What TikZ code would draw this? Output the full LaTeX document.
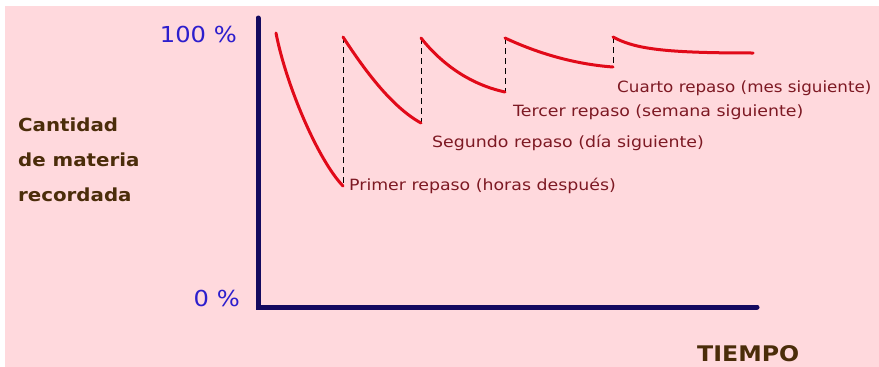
\documentclass[tikz,border=0pt]{standalone}
\usepackage{fontspec}
\setmainfont{DejaVu Sans}
\newfontfamily\ancha[FakeStretch=1.12]{DejaVu Sans}
\newfontfamily\media[FakeStretch=1.08]{DejaVu Sans}
\newfontfamily\anchab[FakeStretch=1.1]{DejaVu Sans}
\definecolor{fondo}{RGB}{255,217,221}
\definecolor{marino}{RGB}{20,10,95}
\definecolor{curva}{RGB}{225,10,25}
\definecolor{granate}{RGB}{125,25,35}
\definecolor{pardo}{RGB}{75,45,10}
\definecolor{azul}{RGB}{45,30,205}
\tikzset{
  eje/.style={line width=5pt, color=marino, line cap=round, line join=miter},
  olvido/.style={line width=3pt, color=curva, line cap=round},
  repaso/.style={thin, dashed, dash pattern=on 6pt off 4pt},
  rotulo/.style={inner sep=0pt, anchor=west, color=granate, font=\ancha\fontsize{15.5}{18}\selectfont},
  titulo/.style={inner sep=0pt, color=pardo, font=\anchab\bfseries\fontsize{18}{35}\selectfont},
  pct/.style={inner sep=0pt, anchor=east, color=azul, font=\anchab\fontsize{22}{24}\selectfont}
}
\begin{document}
\begin{tikzpicture}[x=1pt, y=-1pt]
\useasboundingbox (0,0) rectangle (879,367);
\fill[white] (0,0) rectangle (879,367);
\fill[fondo] (5,6) rectangle (879,367);
% ejes
\draw[eje] (258,18) -- (258,307) -- (757,307);
\node[pct] (pct100) at (237,34) {100 \%};
\node[pct] (pct0) at (240,298) {0 \%};
\node[titulo, anchor=west, align=left] (cantidad) at (18,160) {Cantidad\\de materia\\recordada};
\node[titulo, anchor=west, font=\anchab\bfseries\fontsize{21.5}{24}\selectfont] (tiempo) at (697,354) {TIEMPO};
% repasos
\draw[repaso] (343,37) -- (343,186);
\draw[repaso] (421,38) -- (421,123);
\draw[repaso] (505,38) -- (505,92);
\draw[repaso] (613,37) -- (613,67);
% curvas de olvido
\draw[olvido] (276,33) .. controls (286,85) and (318,160) .. (343,186);
\draw[olvido] (343,37) .. controls (362,66) and (390,106) .. (421,123);
\draw[olvido] (421,38) .. controls (440,62) and (468,84) .. (505,92);
\draw[olvido] (505,38) .. controls (535,52) and (572,64) .. (613,67);
\draw[olvido] (613,37) .. controls (635,49) and (665,53) .. (753,53);
% etiquetas
\node[rotulo] (primer) at (349,186) {Primer repaso (horas después)};
\node[rotulo] (segundo) at (432,143) {Segundo repaso (día siguiente)};
\node[rotulo] (tercer) at (513,112) {Tercer repaso (semana siguiente)};
\node[rotulo, font=\media\fontsize{15.5}{18}\selectfont] (cuarto) at (617,88) {Cuarto repaso (mes siguiente)};
\end{tikzpicture}
\end{document}
